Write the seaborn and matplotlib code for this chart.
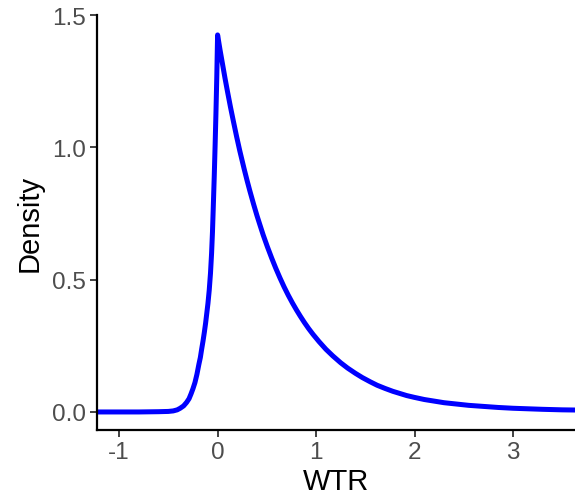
import seaborn as sns
import matplotlib.pyplot as plt
import pandas as pd

# 曲线上读出的点 (WTR, Density)
wtr = [-1.30, -0.80, -0.60, -0.50, -0.45, -0.41, -0.38, -0.345, -0.315, -0.29,
       -0.27, -0.25, -0.23, -0.21, -0.19, -0.175, -0.162, -0.148, -0.135, -0.122,
       -0.112, -0.098, -0.085, -0.072, -0.061, -0.052, -0.045, -0.034, -0.025,
       -0.017, -0.008, 0.0,
       0.025, 0.05, 0.075, 0.10, 0.13, 0.158, 0.193, 0.226, 0.27, 0.30, 0.328,
       0.365, 0.40, 0.43, 0.463, 0.505, 0.55, 0.59, 0.633, 0.675, 0.718, 0.76,
       0.802, 0.84, 0.88, 0.925, 0.97, 1.03, 1.10, 1.17, 1.25, 1.32, 1.40,
       1.47, 1.55, 1.62, 1.70, 1.78, 1.85, 1.92, 2.00, 2.10, 2.20, 2.30, 2.40,
       2.55, 2.70, 2.85, 3.00, 3.15, 3.30, 3.50, 3.70]
density = [0.000, 0.000, 0.001, 0.002, 0.004, 0.008, 0.014, 0.023, 0.036, 0.050,
           0.068, 0.088, 0.111, 0.142, 0.180, 0.206, 0.237, 0.268, 0.300, 0.335,
           0.366, 0.410, 0.460, 0.525, 0.600, 0.680, 0.760, 0.890, 1.010,
           1.125, 1.270, 1.425,
           1.368, 1.315, 1.262, 1.212, 1.154, 1.103, 1.041, 0.986, 0.918, 0.874,
           0.835, 0.786, 0.742, 0.707, 0.669, 0.625, 0.581, 0.544, 0.507, 0.473,
           0.441, 0.412, 0.385, 0.362, 0.339, 0.315, 0.293, 0.266, 0.237, 0.212,
           0.186, 0.166, 0.146, 0.130, 0.114, 0.101, 0.089, 0.078, 0.070, 0.062,
           0.055, 0.047, 0.041, 0.035, 0.031, 0.025, 0.021, 0.017, 0.014, 0.012,
           0.010, 0.008, 0.007]

x_ticks = [-1, 0, 1, 2, 3]
y_ticks = [0.0, 0.5, 1.0, 1.5]
y_tick_labels = ["0.0", "0.5", "1.0", "1.5"]

df = pd.DataFrame({"WTR": wtr, "Density": density})

sns.set_theme(style="ticks")
plt.rcParams["font.family"] = ["Liberation Sans", "DejaVu Sans"]

fig = plt.figure(figsize=(5.75, 5.02), dpi=100)
ax = fig.add_axes([0.169, 0.141, 0.831, 0.827])

sns.lineplot(data=df, x="WTR", y="Density", color="#0000FF", linewidth=3.6,
             sort=False, estimator=None, ax=ax)

ax.set_xlim(-1.223, 3.63)
ax.set_ylim(-0.069, 1.5)
ax.set_xticks(x_ticks)
ax.set_xticklabels([str(t) for t in x_ticks])
ax.set_yticks(y_ticks)
ax.set_yticklabels(y_tick_labels)

sns.despine(ax=ax)
for s in ["left", "bottom"]:
    ax.spines[s].set_color("black")
    ax.spines[s].set_linewidth(1.6)
ax.tick_params(axis="both", length=5, width=1.3, color="#333333",
               labelcolor="#4D4D4D", labelsize=17.5, pad=3)
ax.set_xlabel("WTR", fontsize=21, color="black", labelpad=3)
ax.set_ylabel("Density", fontsize=21, color="black", labelpad=6)

fig.savefig("out.png", dpi=100)
